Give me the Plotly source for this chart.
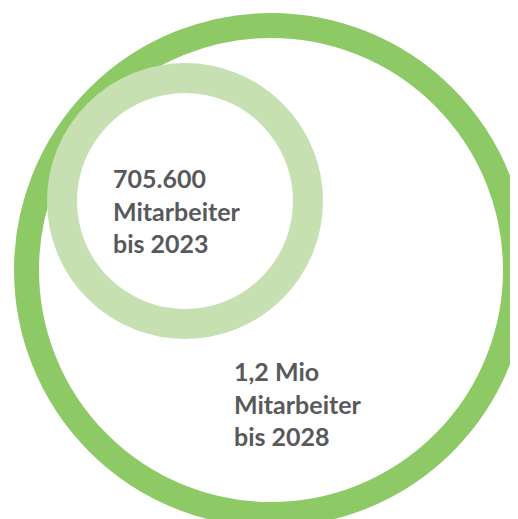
import plotly.graph_objects as go

# Data
labels = ["705.600<br>Mitarbeiter<br>bis 2023", "1,2 Mio<br>Mitarbeiter<br>bis 2028"]
values = [705600, 1200000]
colors = ["#C6E0B1", "#8DC965"]

# Geometry (page-pixel coordinates; page body has an 8px margin)
OFF = 8
W, H = 518 - OFF, 519 - OFF
big = dict(cx=271, cy=270, r=244.5, w=25)
small = dict(cx=185, cy=201, r=123, w=30)
text_pos = [(111, 161), (232, 354)]

fig = go.Figure()
fig.add_trace(go.Scatter(x=[OFF, W + OFF], y=[OFF, H + OFF], mode="markers", marker=dict(opacity=0), hoverinfo="skip", showlegend=False))

for ring, col in [(big, colors[1]), (small, colors[0])]:
    fig.add_shape(type="circle", xref="x", yref="y",
                  x0=ring["cx"] - ring["r"], x1=ring["cx"] + ring["r"],
                  y0=ring["cy"] - ring["r"], y1=ring["cy"] + ring["r"],
                  line=dict(color=col, width=ring["w"]), fillcolor="rgba(0,0,0,0)")

for lab, (tx, ty) in zip(labels, text_pos):
    fig.add_annotation(x=tx, y=ty, xref="x", yref="y", text="<b>" + lab + "</b>",
                       showarrow=False, xanchor="left", yanchor="top", align="left",
                       font=dict(family="Lato", size=25, color="#58595B"))

fig.update_layout(width=W, height=H, margin=dict(l=0, r=0, t=0, b=0),
                  paper_bgcolor="white", plot_bgcolor="white",
                  xaxis=dict(range=[OFF, W + OFF], visible=False, fixedrange=True),
                  yaxis=dict(range=[H + OFF, OFF], visible=False, fixedrange=True),
                  showlegend=False)
fig.write_html("out.html", config={"displayModeBar": False})
